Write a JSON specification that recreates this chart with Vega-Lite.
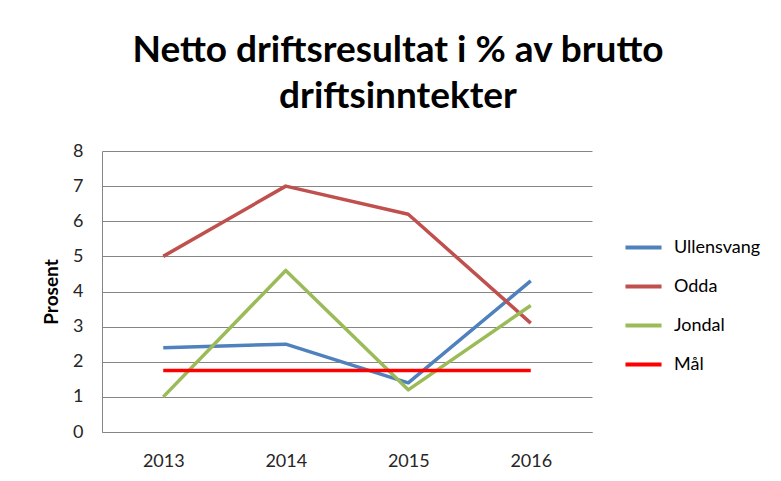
{
  "$schema": "https://vega.github.io/schema/vega-lite/v6.json",
  "autosize": {"type": "none"},
  "padding": {"left": 102, "top": 151, "right": 189, "bottom": 49},
  "width": 490,
  "height": 281,
  "background": "white",
  "title": {
    "text": ["Netto driftsresultat i % av brutto", "driftsinntekter"],
    "font": "Lato",
    "fontSize": 37,
    "fontWeight": "bold",
    "color": "black",
    "anchor": "middle",
    "dx": 51,
    "lineHeight": 46,
    "offset": 26
  },
  "data": {
    "values": [
      {"year": "2013", "series": "Ullensvang", "value": 2.4},
      {"year": "2014", "series": "Ullensvang", "value": 2.5},
      {"year": "2015", "series": "Ullensvang", "value": 1.4},
      {"year": "2016", "series": "Ullensvang", "value": 4.3},
      {"year": "2013", "series": "Odda", "value": 5.0},
      {"year": "2014", "series": "Odda", "value": 7.0},
      {"year": "2015", "series": "Odda", "value": 6.2},
      {"year": "2016", "series": "Odda", "value": 3.1},
      {"year": "2013", "series": "Jondal", "value": 1.0},
      {"year": "2014", "series": "Jondal", "value": 4.6},
      {"year": "2015", "series": "Jondal", "value": 1.2},
      {"year": "2016", "series": "Jondal", "value": 3.6},
      {"year": "2013", "series": "Mål", "value": 1.75},
      {"year": "2014", "series": "Mål", "value": 1.75},
      {"year": "2015", "series": "Mål", "value": 1.75},
      {"year": "2016", "series": "Mål", "value": 1.75}
    ]
  },
  "mark": {"type": "line", "strokeWidth": 3.5, "strokeCap": "butt", "strokeJoin": "round"},
  "encoding": {
    "x": {
      "field": "year",
      "type": "ordinal",
      "scale": {"type": "point", "padding": 0.5},
      "axis": {
        "title": null,
        "labelAngle": 0,
        "labelFont": "Lato",
        "labelFontSize": 18,
        "labelColor": "#262626",
        "labelPadding": 20,
        "ticks": false,
        "domainColor": "#868686",
        "domainWidth": 1,
        "grid": false
      }
    },
    "y": {
      "field": "value",
      "type": "quantitative",
      "scale": {"domain": [0, 8], "nice": false},
      "axis": {
        "title": "Prosent",
        "titleFont": "Lato",
        "titleFontSize": 19,
        "titleFontWeight": "bold",
        "titleColor": "black",
        "titlePadding": 11,
        "values": [0, 1, 2, 3, 4, 5, 6, 7, 8],
        "labelFont": "Lato",
        "labelFontSize": 18,
        "labelColor": "#262626",
        "labelPadding": 19,
        "ticks": false,
        "domainColor": "#868686",
        "domainWidth": 1,
        "gridColor": "#868686",
        "gridWidth": 1
      }
    },
    "color": {
      "field": "series",
      "type": "nominal",
      "scale": {
        "domain": ["Ullensvang", "Odda", "Jondal", "Mål"],
        "range": ["#4F81BD", "#C0504D", "#9BBB59", "#FF0000"]
      },
      "legend": {
        "title": null,
        "orient": "none",
        "legendX": 521,
        "legendY": 76,
        "symbolType": "stroke",
        "symbolSize": 1300,
        "symbolStrokeWidth": 4,
        "labelFont": "Lato",
        "labelFontSize": 18,
        "labelColor": "black",
        "rowPadding": 9,
        "labelOffset": 10
      }
    },
    "order": {"field": "series"}
  },
  "config": {
    "view": {"stroke": null}
  }
}
